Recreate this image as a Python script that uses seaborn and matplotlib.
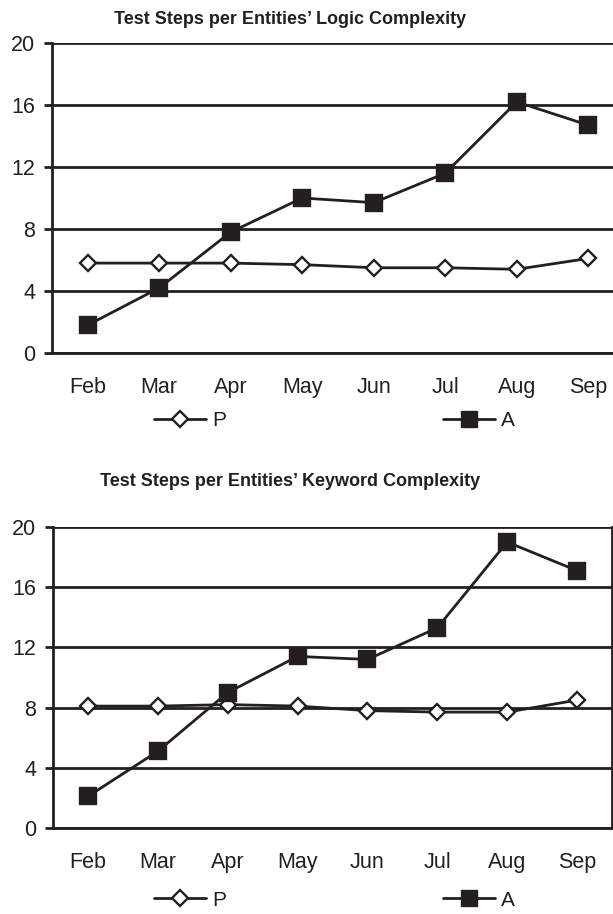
import matplotlib
matplotlib.use("Agg")
import matplotlib.pyplot as plt
from matplotlib.lines import Line2D
import seaborn as sns
import pandas as pd

months = ["Feb", "Mar", "Apr", "May", "Jun", "Jul", "Aug", "Sep"]

logic_p = [5.8, 5.8, 5.8, 5.7, 5.5, 5.5, 5.4, 6.1]
logic_a = [1.8, 4.2, 7.8, 10.0, 9.7, 11.6, 16.2, 14.7]

keyword_p = [8.1, 8.1, 8.2, 8.1, 7.8, 7.7, 7.7, 8.5]
keyword_a = [2.1, 5.1, 9.0, 11.4, 11.2, 13.3, 19.0, 17.1]

y_ticks = [0, 4, 8, 12, 16, 20]

titles = ["Test Steps per Entities\u2019 Logic Complexity",
          "Test Steps per Entities\u2019 Keyword Complexity"]

sns.set_theme(style="white")
plt.rcParams["font.family"] = ["Liberation Sans", "DejaVu Sans"]

INK = "#231f20"

fig = plt.figure(figsize=(6.13, 9.14), dpi=100)
W, H = 613.0, 914.0


def axes_at(left, top, right, bottom):
    return fig.add_axes([left / W, 1 - bottom / H, (right - left) / W, (bottom - top) / H])


ax_top = axes_at(52, 43, 624, 353)
ax_bot = axes_at(53, 527, 612, 828)

series_style = {
    "P": dict(marker="D", markersize=8.5, markerfacecolor="white"),
    "A": dict(marker="s", markersize=12.0, markerfacecolor=INK),
}


def draw_panel(ax, p_vals, a_vals, title, title_y, legend_y):
    df = pd.DataFrame({
        "month": months * 2,
        "x": list(range(len(months))) * 2,
        "value": p_vals + a_vals,
        "series": ["P"] * len(months) + ["A"] * len(months),
    })
    for name in ["P", "A"]:
        sub = df[df["series"] == name]
        st = series_style[name]
        sns.lineplot(data=sub, x="x", y="value", ax=ax, color=INK, lw=2.0,
                     marker=st["marker"], markersize=st["markersize"],
                     markerfacecolor=st["markerfacecolor"], markeredgecolor=INK,
                     markeredgewidth=1.7, legend=False, zorder=3)

    ax.set_xlim(-0.5, len(months) - 0.5)
    ax.set_ylim(0, 20)
    ax.set_yticks(y_ticks)
    ax.set_xticks(range(len(months)))
    ax.set_xticklabels(months)
    ax.set_xticks([i - 0.5 for i in range(len(months) + 1)], minor=True)
    ax.set_xlabel("")
    ax.set_ylabel("")

    ax.grid(axis="y", color=INK, lw=2.0)
    ax.grid(axis="x", visible=False)
    ax.set_axisbelow(True)
    for side in ["left", "bottom", "right"]:
        ax.spines[side].set_visible(True)
        ax.spines[side].set_color(INK)
        ax.spines[side].set_linewidth(2.0)
    ax.spines["top"].set_visible(False)

    ax.tick_params(axis="x", which="major", length=0, pad=17, labelsize=15.5, labelcolor=INK)
    ax.tick_params(axis="x", which="minor", length=6, width=2.0, color=INK, direction="out")
    ax.tick_params(axis="y", which="major", length=6, width=2.0, color=INK, direction="out",
                   left=True, pad=6, labelsize=15.5, labelcolor=INK)

    fig.text(290 / W, 1 - title_y / H, title, ha="center", va="center",
             fontsize=13, fontweight="bold", color=INK)

    handles = [
        Line2D([], [], color=INK, lw=2.0, marker="D", markersize=8.5,
               markerfacecolor="white", markeredgecolor=INK, markeredgewidth=1.7),
        Line2D([], [], color=INK, lw=2.0, marker="s", markersize=12.0,
               markerfacecolor=INK, markeredgecolor=INK),
    ]
    fig.legend(handles, ["P", "A"], ncol=2, frameon=False,
               loc="center left", bbox_to_anchor=(154 / W, 1 - legend_y / H),
               borderpad=0, borderaxespad=0, handlelength=2.5, handletextpad=0.3,
               columnspacing=10.4, fontsize=15, labelcolor=INK)


draw_panel(ax_top, logic_p, logic_a, titles[0], 19, 421)
draw_panel(ax_bot, keyword_p, keyword_a, titles[1], 481, 900)

fig.savefig("out.png", dpi=100)
